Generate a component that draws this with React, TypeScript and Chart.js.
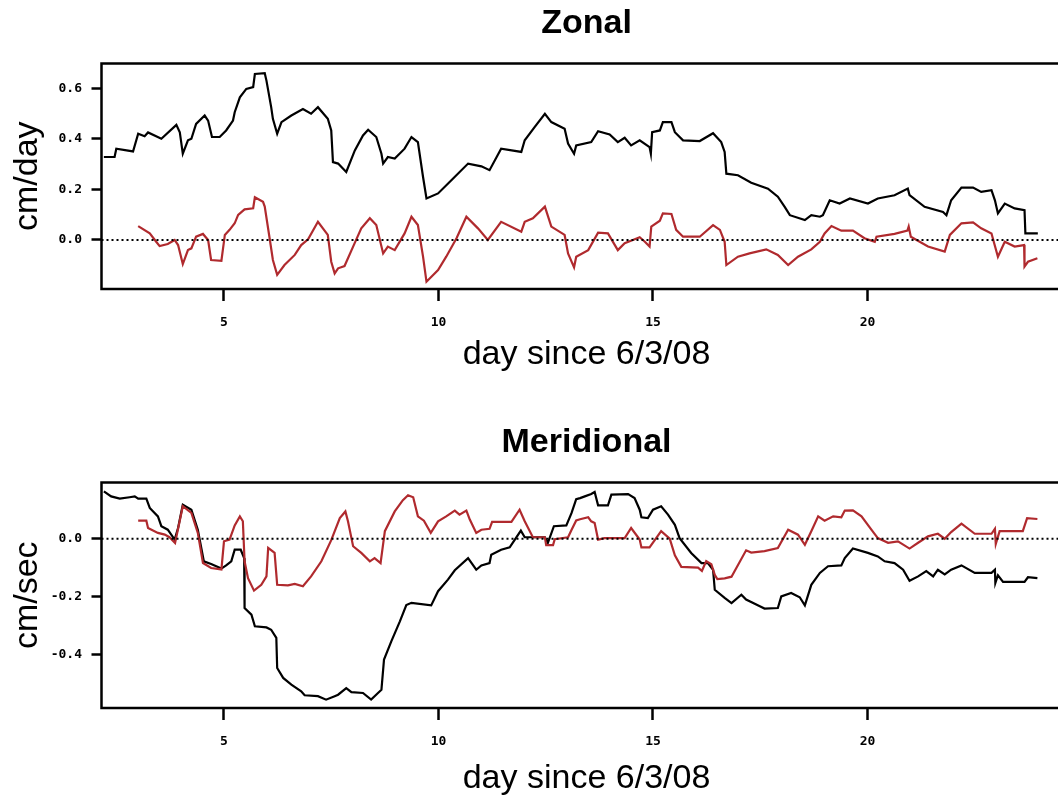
import { useEffect, useRef } from "react";
import { Chart, registerables } from "chart.js";

Chart.register(...registerables);

// Axis setup shared by both panels
const dayMin = 2.145;
const dayMax = 24.755;
const xTicks = [5, 10, 15, 20];
const zonalTicks = [0, 0.2, 0.4, 0.6];
const meridionalTicks = [-0.4, -0.2, 0.0];
const zonalRange = [-0.1937, 0.6976];
const meridionalRange = [-0.5838, 0.1938];

// Zonal component, black trace
const zonalBlackDay = [
  2.2, 2.45, 2.49, 2.88, 3.0, 3.15, 3.23, 3.54, 3.89, 3.97, 4.04, 4.16, 4.24, 4.35, 4.55, 4.63, 4.72, 4.9,
  5.05, 5.21, 5.25, 5.37, 5.52, 5.68, 5.72, 5.95, 5.99, 6.1, 6.14, 6.24, 6.34, 6.57, 6.84, 7.03, 7.19, 7.42,
  7.5, 7.54, 7.66, 7.85, 8.05, 8.24, 8.36, 8.55, 8.67, 8.71, 8.82, 8.98, 9.21, 9.37, 9.52, 9.64, 9.72, 9.99,
  10.3, 10.69, 11.0, 11.19, 11.46, 11.93, 12.01, 12.24, 12.48, 12.63, 12.94, 13.02, 13.16, 13.21, 13.56,
  13.72, 13.99, 14.18, 14.34, 14.49, 14.69, 14.92, 14.95, 14.98, 15.16, 15.23, 15.43, 15.51, 15.7, 16.09,
  16.4, 16.59, 16.67, 16.71, 16.98, 17.29, 17.68, 17.91, 18.07, 18.19, 18.54, 18.69, 18.89, 18.96, 19.12,
  19.35, 19.59, 20.01, 20.24, 20.63, 20.94, 20.98, 21.33, 21.76, 21.84, 21.95, 22.19, 22.46, 22.65, 22.89,
  22.97, 23.04, 23.2, 23.43, 23.66, 23.68, 23.97,
];
const zonalBlack = [
  0.328, 0.328, 0.361, 0.35, 0.42, 0.41, 0.425, 0.4, 0.455, 0.426, 0.341, 0.394, 0.4, 0.459, 0.492, 0.472,
  0.407, 0.407, 0.433, 0.472, 0.505, 0.564, 0.597, 0.604, 0.656, 0.659, 0.63, 0.525, 0.479, 0.42, 0.466,
  0.492, 0.518, 0.499, 0.525, 0.479, 0.433, 0.308, 0.302, 0.269, 0.354, 0.413, 0.436, 0.407, 0.341, 0.302,
  0.328, 0.322, 0.361, 0.407, 0.387, 0.249, 0.164, 0.184, 0.236, 0.302, 0.291, 0.276, 0.361, 0.348, 0.394,
  0.446, 0.499, 0.466, 0.44, 0.381, 0.341, 0.374, 0.387, 0.43, 0.417, 0.387, 0.404, 0.374, 0.394, 0.367,
  0.341, 0.426, 0.433, 0.466, 0.466, 0.426, 0.394, 0.391, 0.422, 0.387, 0.348, 0.262, 0.256, 0.226, 0.203,
  0.171, 0.131, 0.098, 0.079, 0.098, 0.092, 0.098, 0.157, 0.144, 0.164, 0.144, 0.164, 0.177, 0.203, 0.177,
  0.131, 0.111, 0.098, 0.157, 0.207, 0.207, 0.19, 0.197, 0.157, 0.105, 0.144, 0.125, 0.118, 0.026, 0.026,
];

// Zonal component, red trace
const zonalRedDay = [
  3.0, 3.27, 3.42, 3.5, 3.69, 3.85, 3.93, 4.04, 4.16, 4.24, 4.35, 4.51, 4.63, 4.7, 4.94, 5.02, 5.13, 5.25,
  5.33, 5.48, 5.68, 5.72, 5.91, 5.95, 6.07, 6.14, 6.24, 6.41, 6.65, 6.8, 6.96, 7.19, 7.42, 7.5, 7.58, 7.66,
  7.81, 8.01, 8.2, 8.4, 8.55, 8.71, 8.82, 8.98, 9.21, 9.37, 9.52, 9.64, 9.72, 9.99, 10.18, 10.42, 10.65,
  10.92, 11.15, 11.46, 11.93, 12.01, 12.2, 12.48, 12.63, 12.94, 13.02, 13.16, 13.21, 13.49, 13.72, 13.95,
  14.18, 14.34, 14.53, 14.69, 14.81, 14.92, 14.96, 15.16, 15.23, 15.43, 15.54, 15.7, 16.09, 16.4, 16.56,
  16.67, 16.71, 16.98, 17.25, 17.64, 17.91, 18.15, 18.38, 18.69, 18.89, 19.0, 19.16, 19.39, 19.66, 19.93,
  20.17, 20.21, 20.63, 20.93, 20.96, 21.01, 21.41, 21.8, 21.92, 22.19, 22.46, 22.65, 22.89, 23.04, 23.2,
  23.43, 23.65, 23.66, 23.74, 23.96,
];
const zonalRed = [
  0.055, 0.026, -0.007, -0.024, -0.016, 0.0, -0.02, -0.095, -0.04, -0.033, 0.013, 0.024, 0.0, -0.079,
  -0.082, 0.02, 0.04, 0.066, 0.099, 0.121, 0.125, 0.169, 0.151, 0.132, 0.0, -0.079, -0.138, -0.099,
  -0.059, -0.02, 0.003, 0.072, 0.02, -0.086, -0.132, -0.112, -0.103, -0.026, 0.046, 0.086, 0.059, -0.053,
  -0.026, -0.04, 0.026, 0.092, 0.059, -0.066, -0.165, -0.119, -0.066, 0.007, 0.092, 0.046, 0.0, 0.072,
  0.033, 0.072, 0.086, 0.132, 0.053, 0.02, -0.053, -0.108, -0.066, -0.04, 0.029, 0.026, -0.04, -0.013,
  0.0, 0.011, -0.007, -0.026, 0.053, 0.076, 0.105, 0.103, 0.04, 0.013, 0.013, 0.059, 0.04, -0.007, -0.099,
  -0.066, -0.053, -0.037, -0.059, -0.099, -0.066, -0.037, -0.007, 0.026, 0.055, 0.037, 0.037, 0.007,
  -0.007, 0.013, 0.024, 0.037, 0.053, 0.013, -0.026, -0.046, 0.02, 0.066, 0.07, 0.046, 0.026, -0.066,
  -0.007, -0.026, -0.02, -0.105, -0.086, -0.072,
];

// Meridional component, black trace
const meridionalBlackDay = [
  2.2, 2.37, 2.57, 2.8, 2.92, 3.0, 3.19, 3.27, 3.46, 3.54, 3.69, 3.85, 3.93, 4.04, 4.24, 4.39, 4.53, 4.7,
  4.94, 5.05, 5.17, 5.25, 5.39, 5.47, 5.48, 5.64, 5.72, 5.99, 6.1, 6.22, 6.24, 6.38, 6.57, 6.8, 6.88, 7.19,
  7.38, 7.58, 7.66, 7.85, 7.97, 8.24, 8.43, 8.59, 8.67, 8.73, 8.9, 9.1, 9.25, 9.37, 9.83, 9.99, 10.22,
  10.38, 10.69, 10.88, 11.0, 11.19, 11.23, 11.46, 11.66, 11.78, 11.92, 12.01, 12.48, 12.55, 12.69, 12.98,
  13.1, 13.21, 13.3, 13.41, 13.56, 13.64, 13.72, 13.95, 14.03, 14.42, 14.57, 14.69, 14.73, 14.88, 15.0,
  15.19, 15.35, 15.51, 15.62, 15.89, 16.13, 16.28, 16.4, 16.44, 16.67, 16.83, 17.06, 17.17, 17.49, 17.6,
  17.91, 17.99, 18.22, 18.42, 18.54, 18.69, 18.89, 19.08, 19.39, 19.47, 19.66, 20.01, 20.24, 20.4, 20.63,
  20.83, 20.98, 21.18, 21.37, 21.53, 21.64, 21.8, 21.95, 22.19, 22.5, 22.89, 22.97, 22.98, 23.04, 23.16,
  23.66, 23.74, 23.96,
];
const meridionalBlack = [
  0.163, 0.146, 0.138, 0.143, 0.146, 0.138, 0.138, 0.106, 0.077, 0.043, 0.031, -0.003, 0.037, 0.117, 0.1,
  0.031, -0.078, -0.087, -0.103, -0.092, -0.078, -0.038, -0.038, -0.067, -0.239, -0.262, -0.302, -0.306,
  -0.314, -0.342, -0.446, -0.48, -0.503, -0.526, -0.54, -0.543, -0.555, -0.543, -0.538, -0.515, -0.529,
  -0.532, -0.555, -0.532, -0.521, -0.417, -0.354, -0.285, -0.229, -0.221, -0.23, -0.181, -0.141, -0.109,
  -0.067, -0.107, -0.092, -0.084, -0.055, -0.038, -0.03, -0.003, 0.028, 0.005, 0.005, -0.014, 0.043, 0.046,
  0.088, 0.136, 0.14, 0.146, 0.154, 0.161, 0.115, 0.115, 0.152, 0.154, 0.14, 0.1, 0.074, 0.071, 0.1, 0.112,
  0.083, 0.048, 0.002, -0.049, -0.084, -0.084, -0.107, -0.176, -0.204, -0.222, -0.193, -0.21, -0.233,
  -0.241, -0.239, -0.199, -0.187, -0.202, -0.23, -0.159, -0.118, -0.095, -0.092, -0.067, -0.034, -0.049,
  -0.061, -0.078, -0.084, -0.107, -0.145, -0.13, -0.112, -0.13, -0.107, -0.123, -0.107, -0.092, -0.118,
  -0.118, -0.107, -0.153, -0.126, -0.149, -0.149, -0.133, -0.136,
];

// Meridional component, red trace
const meridionalRedDay = [
  3.0, 3.19, 3.23, 3.46, 3.62, 3.73, 3.86, 4.04, 4.24, 4.39, 4.51, 4.7, 4.94, 5.0, 5.13, 5.25, 5.37, 5.44,
  5.48, 5.56, 5.7, 5.87, 5.99, 6.03, 6.18, 6.24, 6.49, 6.65, 6.84, 7.03, 7.27, 7.5, 7.7, 7.83, 7.89, 8.01,
  8.2, 8.4, 8.51, 8.65, 8.75, 8.98, 9.17, 9.29, 9.41, 9.52, 9.66, 9.82, 9.99, 10.18, 10.38, 10.49, 10.65,
  10.73, 10.88, 11.0, 11.19, 11.25, 11.7, 11.89, 12.01, 12.2, 12.48, 12.51, 12.67, 12.71, 13.02, 13.1,
  13.21, 13.3, 13.49, 13.56, 13.64, 13.72, 13.87, 14.34, 14.49, 14.69, 14.73, 14.92, 15.19, 15.39, 15.51,
  15.66, 16.05, 16.14, 16.24, 16.36, 16.44, 16.5, 16.67, 16.83, 17.17, 17.29, 17.6, 17.91, 18.15, 18.38,
  18.54, 18.69, 18.85, 19.0, 19.2, 19.39, 19.47, 19.66, 19.86, 20.09, 20.24, 20.48, 20.71, 20.98, 21.18,
  21.41, 21.64, 21.8, 21.95, 22.19, 22.5, 22.89, 22.97, 22.99, 23.08, 23.62, 23.72, 23.96,
];
const meridionalRed = [
  0.062, 0.062, 0.037, 0.02, 0.014, 0.005, -0.015, 0.112, 0.089, 0.02, -0.084, -0.101, -0.106, -0.009,
  -0.003, 0.046, 0.077, 0.06, -0.078, -0.136, -0.179, -0.159, -0.13, -0.032, -0.049, -0.159, -0.161,
  -0.156, -0.164, -0.13, -0.078, -0.005, 0.071, 0.094, 0.06, -0.026, -0.049, -0.078, -0.067, -0.084,
  0.026, 0.094, 0.133, 0.15, 0.143, 0.077, 0.062, 0.02, 0.06, 0.077, 0.097, 0.083, 0.097, 0.066, 0.02,
  0.031, 0.034, 0.058, 0.058, 0.1, 0.06, 0.005, 0.005, -0.022, -0.022, -0.002, 0.005, 0.03, 0.063, 0.067,
  0.074, 0.06, 0.054, -0.003, 0.002, 0.002, 0.037, -0.003, -0.03, -0.03, 0.026, 0.0, -0.057, -0.097, -0.1,
  -0.111, -0.077, -0.088, -0.125, -0.139, -0.137, -0.131, -0.04, -0.048, -0.043, -0.032, 0.031, 0.014,
  -0.021, 0.026, 0.077, 0.062, 0.077, 0.074, 0.097, 0.098, 0.077, 0.031, 0.002, -0.014, -0.009, -0.034,
  -0.014, 0.008, 0.017, 0.0, 0.023, 0.052, 0.017, 0.017, 0.034, -0.018, 0.026, 0.026, 0.071, 0.068,
];

const CANVAS_W = 1075;
const CANVAS_H = 379;
const RED = "#b02a2e";
const TEXT_FONT = '"Liberation Sans", Arial, Helvetica, sans-serif';
const TICK_FONT = { family: '"DejaVu Sans Mono", monospace', size: 13, weight: "bold" as const };

const toPoints = (days: number[], vals: number[]) => days.map((d, i) => ({ x: d, y: vals[i] }));

// Frame, panel title and axis titles
const framePlugin = {
  id: "frame",
  afterDatasetsDraw(chart: any, _args: any, opts: any) {
    const { ctx, chartArea: a } = chart;
    ctx.save();
    ctx.strokeStyle = "#000";
    ctx.lineWidth = 2.5;
    ctx.strokeRect(a.left, a.top, a.right - a.left, a.bottom - a.top);
    const cx = (a.left + a.right) / 2;
    ctx.fillStyle = "#000";
    ctx.textAlign = "center";
    ctx.textBaseline = "alphabetic";
    ctx.font = `bold 34px ${TEXT_FONT}`;
    ctx.fillText(opts.title, cx, 33);
    ctx.font = `34px ${TEXT_FONT}`;
    ctx.fillText(opts.xLabel, cx, opts.xLabelBaseline);
    ctx.translate(37, (a.top + a.bottom) / 2);
    ctx.rotate(-Math.PI / 2);
    ctx.fillText(opts.yLabel, 0, 0);
    ctx.restore();
  },
};

type PanelProps = {
  top: number;
  title: string;
  yLabel: string;
  xLabelBaseline: number;
  range: number[];
  yTicks: number[];
  black: { x: number; y: number }[];
  red: { x: number; y: number }[];
};

function Panel({ top, title, yLabel, xLabelBaseline, range, yTicks, black, red }: PanelProps) {
  const ref = useRef<HTMLCanvasElement>(null);

  useEffect(() => {
    const tickGrid = (len: number) => ({
      display: true,
      drawOnChartArea: false,
      drawTicks: true,
      tickLength: len,
      tickWidth: 2.5,
      tickColor: "#000",
    });
    const chart = new Chart(ref.current as HTMLCanvasElement, {
      type: "line",
      data: {
        datasets: [
          {
            data: [
              { x: dayMin, y: 0 },
              { x: dayMax, y: 0 },
            ],
            borderColor: "#000",
            borderWidth: 2,
            borderDash: [2, 3],
            pointRadius: 0,
          },
          { data: red, borderColor: RED, borderWidth: 2.2, pointRadius: 0, tension: 0 },
          { data: black, borderColor: "#000", borderWidth: 2.2, pointRadius: 0, tension: 0 },
        ],
      },
      options: {
        animation: false,
        responsive: false,
        maintainAspectRatio: false,
        devicePixelRatio: 1,
        events: [],
        layout: { padding: { top: 63.5, right: 3.5, bottom: 0, left: 0 } },
        plugins: {
          legend: { display: false },
          tooltip: { enabled: false },
          frame: { title, yLabel, xLabel: "day since 6/3/08", xLabelBaseline },
        } as any,
        scales: {
          x: {
            type: "linear",
            min: dayMin,
            max: dayMax,
            afterFit: (s: any) => {
              s.height = 90;
            },
            afterBuildTicks: (s: any) => {
              s.ticks = xTicks.map((value) => ({ value }));
            },
            grid: tickGrid(12),
            border: { display: false },
            ticks: {
              padding: 14,
              color: "#000",
              font: TICK_FONT,
              maxRotation: 0,
              autoSkip: false,
              callback: (v: any) => String(v),
            },
          },
          y: {
            type: "linear",
            min: range[0],
            max: range[1],
            afterFit: (s: any) => {
              s.width = 101.5;
            },
            afterBuildTicks: (s: any) => {
              s.ticks = yTicks.map((value) => ({ value }));
            },
            grid: tickGrid(10),
            border: { display: false },
            ticks: {
              padding: 9.5,
              color: "#000",
              font: TICK_FONT,
              autoSkip: false,
              callback: (v: any) => Number(v).toFixed(1),
            },
          },
        },
      },
      plugins: [framePlugin],
    });
    return () => chart.destroy();
  }, []);

  return (
    <canvas
      ref={ref}
      width={CANVAS_W}
      height={CANVAS_H}
      style={{ position: "absolute", left: 0, top, width: CANVAS_W, height: CANVAS_H }}
    />
  );
}

export default function App() {
  return (
    <div
      style={{
        position: "fixed",
        left: 0,
        top: 0,
        width: 1058,
        height: 798,
        overflow: "hidden",
        background: "#fff",
      }}
    >
      <Panel
        top={0}
        title="Zonal"
        yLabel="cm/day"
        xLabelBaseline={364}
        range={zonalRange}
        yTicks={zonalTicks}
        black={toPoints(zonalBlackDay, zonalBlack)}
        red={toPoints(zonalRedDay, zonalRed)}
      />
      <Panel
        top={419}
        title="Meridional"
        yLabel="cm/sec"
        xLabelBaseline={369}
        range={meridionalRange}
        yTicks={meridionalTicks}
        black={toPoints(meridionalBlackDay, meridionalBlack)}
        red={toPoints(meridionalRedDay, meridionalRed)}
      />
    </div>
  );
}
